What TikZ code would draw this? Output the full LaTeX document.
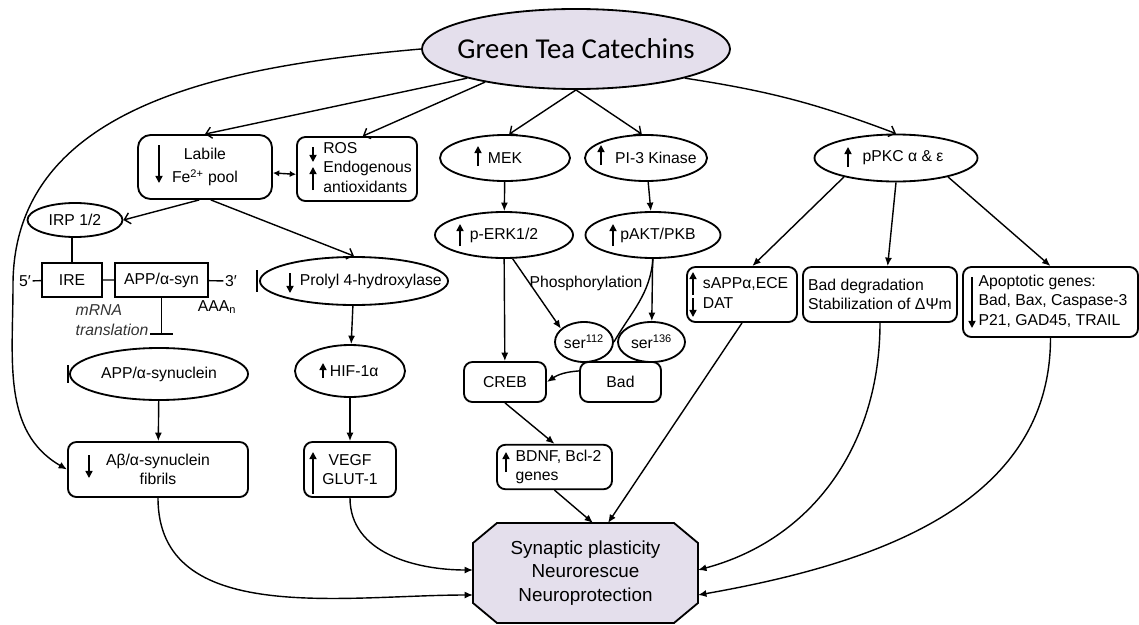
\documentclass[tikz,border=0pt]{standalone}
\usepackage{fontspec}
\setmainfont{Liberation Sans}
\newfontfamily\gtcfont{Carlito}
\usepackage{tikz}
\usetikzlibrary{arrows.meta, positioning, shapes.geometric, calc}

\definecolor{lav}{RGB}{228,223,236}
\newcommand{\inoval}[2][0pt]{\makebox[0pt]{\hspace*{#1}\hspace*{#1}#2}}
\newcommand{\padl}[2]{\begin{tabular}{@{\hspace*{#1}}l@{}}#2\end{tabular}}

\begin{document}
\begin{tikzpicture}[x=0.025cm, y=0.025cm,
    txt/.style={font=\fontsize{11.2}{13.8}\selectfont, inner sep=1pt},
    rbox/.style={txt, draw, line width=1.3pt, rounded corners=6pt, align=center, inner sep=2pt},
    sbox/.style={txt, draw, line width=1.3pt, inner sep=2pt},
    oval/.style={txt, draw, ellipse, line width=1.3pt, inner sep=0pt},
    conn/.style={line width=1pt, -{Latex[length=6pt,width=5pt]}},
    barb/.style={line width=1pt, -{Straight Barb[length=4pt,width=8pt]}},
    dbl/.style={line width=1pt, {Latex[length=4.5pt,width=4.5pt]}-{Latex[length=4.5pt,width=4.5pt]}},
    updn/.style={line width=1.1pt, -{Triangle[length=5pt,width=5pt]}},
    inh/.style={line width=1.3pt, -{Bar[width=0.55cm]}}]
    \useasboundingbox (0,0) rectangle (1139,-625);

    % top
    \node[oval, fill=lav, minimum width=7.7cm, minimum height=2cm, font=\gtcfont\fontsize{20.5}{24}\selectfont] (gtc) at (576,-49) {\inoval{Green Tea Catechins}};

    % iron branch
    \node[rbox, rounded corners=9pt, minimum width=3.35cm, minimum height=1.6cm] (lab) at (205,-167) {Labile\\[3pt]Fe\textsuperscript{2+} pool};
    \node[rbox, minimum width=3cm, minimum height=1.6cm, inner xsep=3.5pt] (ros) at (357,-169) {\padl{15pt}{ROS\\Endogenous\\antioxidants}};
    \node[oval, minimum width=2.375cm, minimum height=0.85cm] (irp) at (75,-220) {\inoval{IRP 1/2}};
    \node[sbox, minimum width=1.5cm, minimum height=0.85cm] (ire) at (72,-280) {IRE};
    \node[sbox, minimum width=2.325cm, minimum height=0.85cm] (appsyn) at (161.5,-280) {APP/α-syn};
    \node[txt] (fp) at (25,-281) {5′};
    \node[txt] (tp) at (231,-281) {3′};
    \node[txt] (aaa) at (217,-307) {AAA\textsubscript{n}};
    \node[txt, font=\itshape\fontsize{11.2}{13.8}\selectfont, text=black!80, align=left, anchor=west] (mrna) at (74,-320) {mRNA\\translation};
    \coordinate (tstop) at (0,-335);
    \node[oval, minimum width=4.45cm, minimum height=1.3cm] (appel) at (159,-374) {\inoval{APP/α-synuclein}};
    \node[rbox, minimum width=4.5cm, minimum height=1.375cm] (abeta) at (158,-469.5) {Aβ/α-synuclein\\fibrils};
    \node[oval, minimum width=4.7cm, minimum height=1.2cm] (prolyl) at (354,-281) {\inoval[12pt]{Prolyl 4-hydroxylase}};
    \node[oval, minimum width=2.75cm, minimum height=1.3cm] (hif) at (350,-371) {\inoval[3pt]{HIF-1α}};
    \node[rbox, minimum width=2.3cm, minimum height=1.375cm] (vegf) at (350,-469.5) {VEGF\\GLUT-1};

    % kinase branch
    \node[oval, minimum width=3.25cm, minimum height=1.15cm] (mek) at (505,-158) {\inoval{MEK}};
    \node[oval, minimum width=3.05cm, minimum height=1.15cm] (pi3) at (646,-158) {\inoval[7pt]{PI-3 Kinase}};
    \node[oval, minimum width=3.45cm, minimum height=1.15cm] (perk) at (504,-235) {\inoval{p-ERK1/2}};
    \node[oval, minimum width=3.375cm, minimum height=1.15cm] (pakt) at (653,-235) {\inoval[3.5pt]{pAKT/PKB}};
    \node[txt] (phos) at (586,-283) {Phosphorylation};
    \node[rbox, minimum width=2.05cm, minimum height=1cm] (creb) at (505,-382) {CREB};
    \node[rbox, minimum width=2.025cm, minimum height=1cm] (bad) at (620.5,-382) {Bad};
    \node[oval, minimum width=1.45cm, minimum height=1cm] (s112) at (584,-342) {\inoval{ser\textsuperscript{112}}};
    \node[oval, minimum width=1.675cm, minimum height=1cm] (s136) at (651.5,-342) {\inoval{ser\textsuperscript{136}}};
    \node[rbox, minimum width=2.875cm, minimum height=1.1cm, inner xsep=5.7pt] (bdnf) at (554.5,-467) {\padl{5.7pt}{BDNF, Bcl-2\\genes}};

    % PKC branch
    \node[oval, minimum width=4.075cm, minimum height=1.175cm] (pkc) at (896,-158) {\inoval[5pt]{pPKC α \& ε}};
    \node[rbox, minimum width=2.75cm, minimum height=1.375cm, inner xsep=5pt] (sapp) at (742,-294.5) {\padl{5pt}{sAPPα,ECE\\DAT}};
    \node[rbox, align=left, minimum width=3.85cm, minimum height=1.375cm] (baddeg) at (880,-294.5) {Bad degradation\\Stabilization of ΔΨm};
    \node[rbox, minimum width=4.375cm, minimum height=1.75cm, inner xsep=7pt] (apop) at (1050.5,-302) {\padl{3.5pt}{Apoptotic genes:\\Bad, Bax, Caspase-3\\P21, GAD45, TRAIL}};

    % outcome
    \coordinate (sc) at (585.5,-573);
    \filldraw[fill=lav, line width=1.3pt] ($(sc)+(-88.5,50)$) -- ($(sc)+(88.5,50)$) -- ($(sc)+(112.5,30)$) -- ($(sc)+(112.5,-30)$)
        -- ($(sc)+(88.5,-50)$) -- ($(sc)+(-88.5,-50)$) -- ($(sc)+(-112.5,-30)$) -- ($(sc)+(-112.5,30)$) -- cycle;
    \node[font=\fontsize{13.4}{16.7}\selectfont, align=center, minimum width=5.625cm, minimum height=2.5cm, outer sep=0pt] (syn) at (sc) {Synaptic plasticity\\Neurorescue\\Neuroprotection};

    \path[barb]
    (gtc.195) edge (lab.north)
    (gtc.200) edge (ros.80)
    (gtc.south) edge (mek.80)
    (gtc.south) edge (pi3.100)
    (gtc.-15) edge[bend left=6] (pkc.north)
    (lab.260) edge (irp.east)
    (lab.280) edge (prolyl.north);

    \draw[conn] (gtc.west) to[out=185, in=90] (13,-285) to[out=-90, in=150] (abeta.west);
    \draw[dbl] (lab.-5) -- (ros.185);

    \draw[line width=1pt] (ire.north |- irp.south) -- (ire.north);
    \draw[line width=1pt] (fp) -- (ire) (ire) -- (appsyn) (appsyn) -- (tp);
    \draw[inh] (appsyn.south) -- (appsyn.south |- tstop);
    \draw[line width=1.3pt] ($(prolyl.west)+(-2,11)$) -- ($(prolyl.west)+(-2,-11)$);
    \draw[line width=1.3pt] ($(appel.west)+(-1,9)$) -- ($(appel.west)+(-1,-9)$);

    \path[conn]
    (prolyl) edge (hif)
    (hif) edge (vegf)
    (appel) edge (abeta)
    (mek) edge (perk)
    (pi3) edge (pakt)
    (perk) edge (creb)
    (perk.-70) edge (s112.150)
    (pakt) edge (s136)
    (bad.165) edge[bend right=15] (creb.east)
    (creb.south) edge (bdnf.north)
    (bdnf.south) edge ($(syn.north)+(7.5,0)$)
    (pkc.200) edge (sapp.70)
    (pkc.south) edge (baddeg.75)
    (pkc.-20) edge (apop.north)
    (sapp.south) edge ($(syn.north)+(22.5,0)$)
    (abeta.south) edge[out=-90, in=180] ($(syn.west)+(0,-22)$)
    (vegf.south) edge[out=-90, in=180] ($(syn.west)+(0,3)$)
    (baddeg.south) edge[out=-90, in=15] ($(syn.east)+(0,3)$)
    (apop.south) edge[out=-90, in=10] ($(syn.east)+(0,-22)$);
    \draw[line width=1pt] (pakt.south) to[out=-95, in=60] (s112.east);

    % up / down marks
    \foreach \n/\dx/\ya/\yb in {lab/-46/22/-16, ros/-44/22/7, ros/-44/-21/2, mek/-27/-8/12, pi3/-45/-7/13,
        perk/-44/-11/11, pakt/-40/-11/11, pkc/-48/-9/11, prolyl/-64/8/-12, hif/-27/-7/8,
        abeta/-69/14.5/-8.5, vegf/-37/-24.5/17.5, bdnf/-48.5/-5/15, sapp/-49/-0.5/22.5,
        sapp/-49/-3.5/-22.5, apop/-78.5/25/-26}
        \draw[updn] ($(\n)+(\dx,\ya)$) -- ($(\n)+(\dx,\yb)$);
\end{tikzpicture}
\end{document}
